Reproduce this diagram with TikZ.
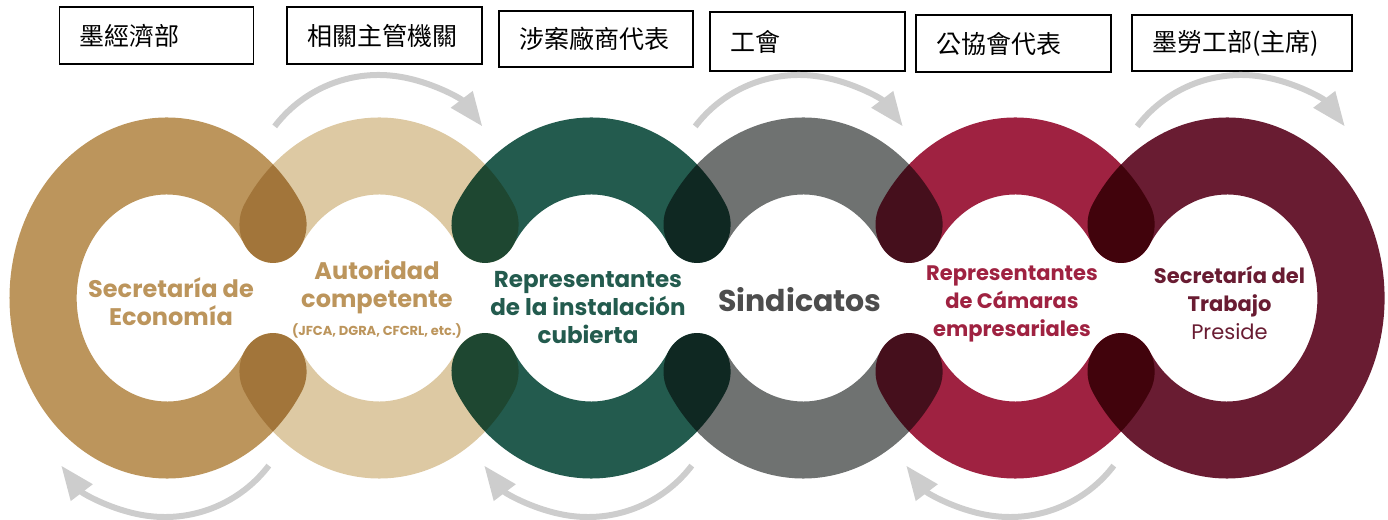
\documentclass[tikz,border=0pt]{standalone}
\usepackage{fontspec}
\setmainfont{Poppins}
\newfontfamily\zhfont{Noto Sans CJK TC}
\usetikzlibrary{arrows.meta}
\definecolor{eco}{HTML}{BC955C}
\definecolor{aut}{HTML}{DDC9A3}
\definecolor{ins}{HTML}{235B4E}
\definecolor{sin}{HTML}{6F7271}
\definecolor{cam}{HTML}{9F2241}
\definecolor{stps}{HTML}{691C32}
\definecolor{sintxt}{HTML}{4D4D4D}
\definecolor{flecha}{HTML}{CDCDCD}
\tikzset{
  ring/.style={line width=77pt, line cap=round, blend mode=multiply},
  rotulo/.style={draw, line width=1.2pt, inner xsep=20pt, inner ysep=0pt, align=left, font=\zhfont\fontsize{25}{30}\selectfont},
  gira/.style={flecha, line width=6pt, -{Triangle[length=34pt,width=26pt]}},
  lbl/.style={align=center, font=\bfseries\fontsize{#1}{28}\selectfont}
}
\newcommand{\rbox}[5]{\node[rotulo, text width=#3pt-40pt, minimum height=#4pt] (#1) at (#2) {#5};}

\begin{document}
\begin{tikzpicture}[x=1pt,y=1pt]
\useasboundingbox (0,0) rectangle (1388,519);

\begin{scope}[transform canvas={xscale=0.8725}]
\draw[ring, eco] (191.4,221) ++(31.2:142) arc[start angle=31.2, end angle=328.8, radius=142];
\foreach \k/\col in {1/aut,2/ins,3/sin,4/cam} {
	\draw[ring, \col] (191.4+243*\k,221) ++(148.8:142) arc[start angle=148.8, end angle=31.2, radius=142];
	\draw[ring, \col] (191.4+243*\k,221) ++(211.2:142) arc[start angle=211.2, end angle=328.8, radius=142];
}
\draw[ring, stps] (1406.4,221) ++(148.8:142) arc[start angle=148.8, end angle=-148.8, radius=142];
\end{scope}

\rbox{b1}{156.5,483.5}{194}{57}{墨經濟部}
\rbox{b2}{384.5,483.5}{195}{57}{相關主管機關}
\rbox{b3}{596,480}{194}{56}{涉案廠商代表}
\rbox{b4}{807.5,477.5}{195}{59}{工會}
\rbox{b5}{1013.5,475.5}{195}{57}{公協會代表}
\rbox{b6}{1242,476}{220}{56}{墨勞工部(主席)}

\node[lbl=24, eco] (t1) at (171,217) {Secretaría de\\Economía};
\node[lbl=24, eco] (t2) at (377,220) {Autoridad\\competente\\{\fontsize{13}{16}\selectfont (JFCA, DGRA, CFCRL, etc.)}};
\node[lbl=23, ins] (t3) at (588,211) {Representantes\\de la instalación\\cubierta};
\node[lbl=30, sintxt] (t4) at (800,219) {Sindicatos};
\node[lbl=21, cam] (t5) at (1012,215) {Representantes\\de Cámaras\\empresariales};
\node[lbl=21, stps] (t6) at (1229.5,216) {Secretaría del\\Trabajo\\{\mdseries Preside}};

\foreach \n/\cx in {a/378.5,b/799,c/1241} {
	\coordinate (s\n) at (\cx-103.8,392.6);
	\draw[gira] (s\n) arc[start angle=142.7, end angle=37.3, radius=130.5];
}
\foreach \n/\cx in {d/165,e/588,f/1010} {
	\coordinate (s\n) at (\cx+103.8,53.4);
	\draw[gira] (s\n) arc[start angle=-37.3, end angle=-142.7, radius=130.5];
}
\end{tikzpicture}
\end{document}
